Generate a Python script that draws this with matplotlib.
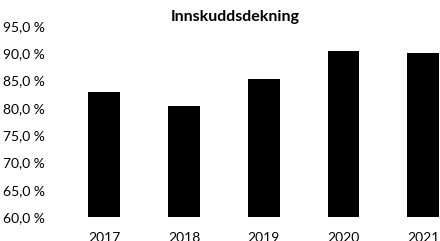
import matplotlib.pyplot as plt
from matplotlib.ticker import FuncFormatter

years = ['2017', '2018', '2019', '2020', '2021']
coverage = [82.9, 80.3, 85.3, 90.4, 90.0]
y_ticks = [60, 65, 70, 75, 80, 85, 90, 95]

plt.rcParams['font.family'] = ['Lato', 'DejaVu Sans']

fig = plt.figure(figsize=(4.40, 2.41), dpi=100)
ax = fig.add_axes([64.5 / 440, 24 / 241, (440 - 64.5) / 440, 191 / 241])

x = range(len(years))
ax.bar(x, [v - 60 for v in coverage], bottom=60, width=0.4, color='black')

ax.set_xlim(-0.5, 4.21)
ax.set_ylim(60, 95)
ax.set_xticks(list(x))
ax.set_xticklabels(years)
ax.set_yticks(y_ticks)
ax.yaxis.set_major_formatter(FuncFormatter(lambda v, p: f'{v:.1f} %'.replace('.', ',')))
ax.tick_params(length=0, labelsize=10)
ax.tick_params(axis='y', pad=14)
ax.tick_params(axis='x', pad=11)
for s in ax.spines.values():
    s.set_visible(False)

fig.text(235 / 440, 1 - 17 / 241, 'Innskuddsdekning', ha='center', va='center',
         fontsize=11.5, fontweight='bold')

fig.savefig('out.png', dpi=100)
